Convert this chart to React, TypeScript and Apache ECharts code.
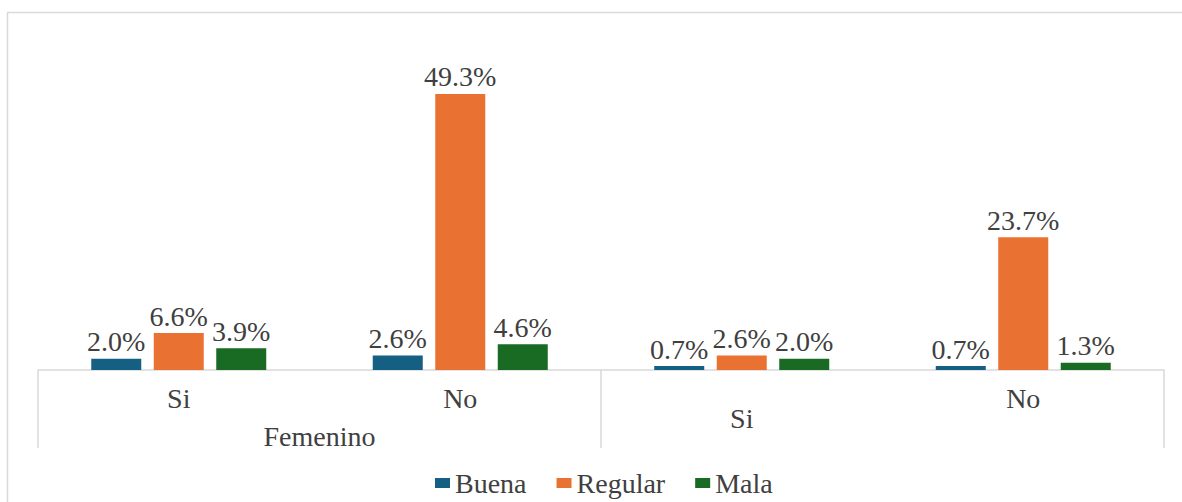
import React, { useEffect, useRef } from "react";
import * as echarts from "echarts";

const categories = ["Si", "No", "Si", "No"];
const groups = ["Femenino", ""];
const seriesNames = ["Buena", "Regular", "Mala"];
const buena = [2.0, 2.6, 0.7, 0.7];
const regular = [6.6, 49.3, 2.6, 23.7];
const mala = [3.9, 4.6, 2.0, 1.3];
const colors = ["#156082", "#E97132", "#196B24"];

const FONT = "'Liberation Serif', 'Times New Roman', serif";
const TEXT = "#404040";

export default function App() {
  const ref = useRef<HTMLDivElement>(null);
  useEffect(() => {
    if (!ref.current) return;
    const chart = echarts.init(ref.current, undefined, { renderer: "svg" });
    const values = [buena, regular, mala];
    chart.setOption({
      animation: false,
      backgroundColor: "#ffffff",
      textStyle: { fontFamily: FONT },
      grid: { left: 38, right: 18, top: 90, bottom: 132, containLabel: false },
      graphic: [
        {
          type: "rect",
          shape: { x: 7.5, y: 12.5, width: 1300, height: 600 },
          style: { fill: "none", stroke: "#d9d9d9", lineWidth: 1.5 },
          silent: true,
          z: -10,
        },
      ],
      legend: {
        data: seriesNames,
        left: 430,
        top: 464,
        itemWidth: 15,
        itemHeight: 10,
        itemGap: 30,
        icon: "rect",
        textStyle: { fontFamily: FONT, fontSize: 28, color: TEXT },
      },
      xAxis: [
        {
          type: "category",
          data: categories,
          position: "bottom",
          axisLine: { show: true, lineStyle: { color: "#d9d9d9", width: 1.5 } },
          axisTick: { show: false },
          axisLabel: {
            margin: 14,
            fontFamily: FONT,
            fontSize: 28,
            color: TEXT,
            formatter: (v: string, i: number) => (i === 2 ? "{low|" + v + "}" : v),
            rich: {
              low: { fontFamily: FONT, fontSize: 28, color: TEXT, padding: [20, 0, 0, 0] },
            },
          },
        },
        {
          type: "category",
          data: groups,
          position: "bottom",
          axisLine: { show: false },
          axisTick: {
            show: true,
            length: 78,
            lineStyle: { color: "#d9d9d9", width: 1.5 },
          },
          axisLabel: { margin: 52, fontFamily: FONT, fontSize: 28, color: TEXT },
        },
      ],
      yAxis: {
        type: "value",
        min: 0,
        max: 50,
        show: false,
        splitLine: { show: false },
      },
      series: seriesNames.map((name, k) => ({
        name,
        type: "bar",
        xAxisIndex: 0,
        data: values[k],
        barWidth: 50,
        barGap: "25%",
        itemStyle: { color: colors[k] },
        label: {
          show: true,
          position: "top",
          distance: 3,
          fontFamily: FONT,
          fontSize: 28,
          color: TEXT,
          formatter: (p: any) => Number(p.value).toFixed(1) + "%",
        },
      })),
    });
    return () => chart.dispose();
  }, []);
  return (
    <div
      ref={ref}
      style={{ position: "absolute", left: 0, top: 0, width: 1182, height: 502 }}
    />
  );
}
